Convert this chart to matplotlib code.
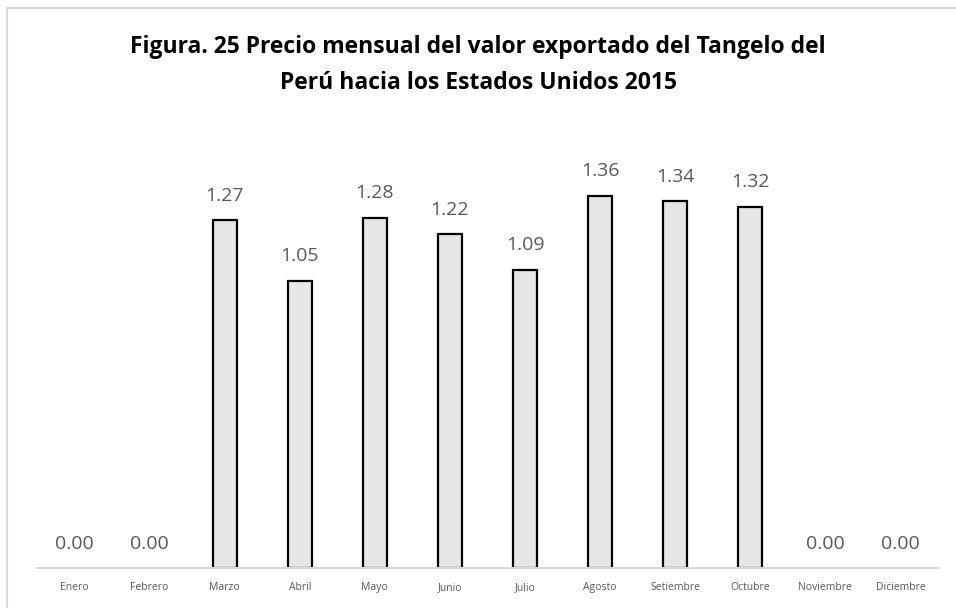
import matplotlib.pyplot as plt
from matplotlib.patches import Rectangle

meses = ["Enero", "Febrero", "Marzo", "Abril", "Mayo", "Junio", "Julio",
         "Agosto", "Setiembre", "Octubre", "Noviembre", "Diciembre"]
precios = [0.00, 0.00, 1.27, 1.05, 1.28, 1.22, 1.09, 1.36, 1.34, 1.32, 0.00, 0.00]

plt.rcParams['font.family'] = ['Open Sans', 'DejaVu Sans']

fig = plt.figure(figsize=(9.56, 6.08), dpi=100)
ax = fig.add_axes([37 / 956, 1 - 568 / 608, 901 / 956, 438 / 608])

# borde exterior del grafico
fig.patches.append(Rectangle((7 / 956, -0.02), 1.0, 1 - 8 / 608 + 0.02,
                             transform=fig.transFigure, fill=False,
                             edgecolor="#D9D9D9", linewidth=1.5))

x = range(len(meses))
barras = ax.bar(x, precios, width=0.32, color="#E7E6E6", edgecolor="black",
                linewidth=[1.6 if v > 0 else 0 for v in precios])

for xi, v in zip(x, precios):
    ax.annotate(f"{v:.2f}", (xi, v), xytext=(0, 11), textcoords="offset points",
                ha="center", va="bottom", fontsize=14, color="#595959")

ax.set_xlim(-0.5, len(meses) - 0.5)
ax.set_ylim(0, 1.6)
ax.set_xticks(list(x))
ax.set_xticklabels(meses, fontsize=7.5, color="#595959")
ax.tick_params(axis="x", length=0, pad=10)
ax.set_yticks([])
for s in ["top", "right", "left"]:
    ax.spines[s].set_visible(False)
ax.spines["bottom"].set_color("#D9D9D9")
ax.spines["bottom"].set_linewidth(1.5)

fig.text(0.5, 1 - 47 / 608, "Figura. 25 Precio mensual del valor exportado del Tangelo del",
         ha="center", va="center", fontsize=16.5, fontweight="bold", color="black")
fig.text(0.5, 1 - 83 / 608, "Perú hacia los Estados Unidos 2015",
         ha="center", va="center", fontsize=16.5, fontweight="bold", color="black")

fig.savefig("out.png", dpi=100)
